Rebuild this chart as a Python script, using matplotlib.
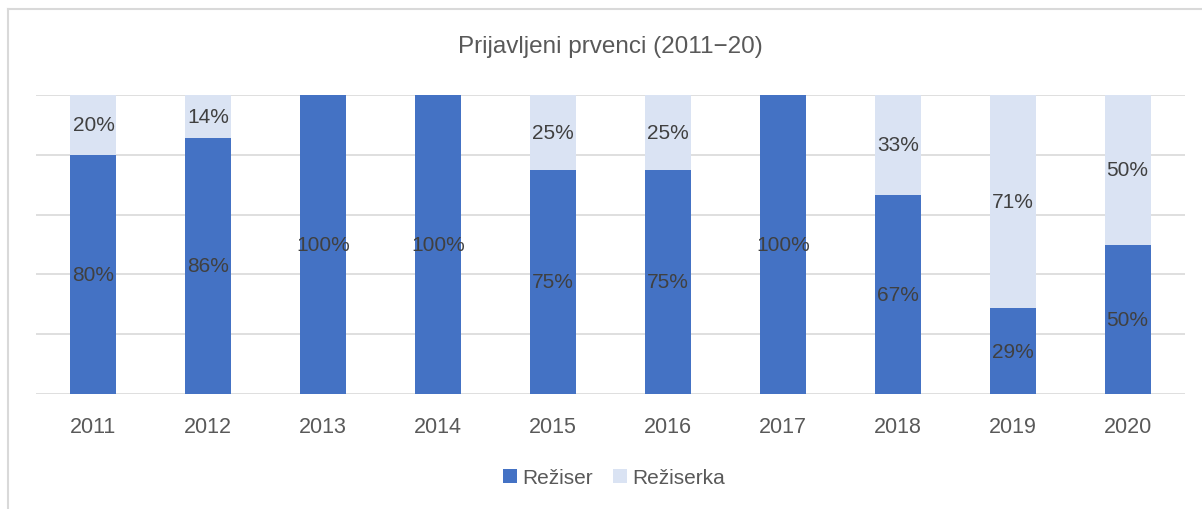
import matplotlib
matplotlib.use("Agg")
import matplotlib.pyplot as plt
from matplotlib.lines import Line2D
from matplotlib.patches import Patch

years = ["2011", "2012", "2013", "2014", "2015", "2016", "2017", "2018", "2019", "2020"]
reziser = [80.0, 85.7, 100.0, 100.0, 75.0, 75.0, 100.0, 66.7, 28.6, 50.0]
reziserka = [20.0, 14.3, 0.0, 0.0, 25.0, 25.0, 0.0, 33.3, 71.4, 50.0]
series_names = ["Režiser", "Režiserka"]
title = "Prijavljeni prvenci (2011\u221220)"

c_blue = "#4472C4"
c_light = "#DAE3F3"
c_text = "#595959"
c_label = "#404040"
c_grid = "#D9D9D9"

plt.rcParams['font.family'] = ['Liberation Sans', 'DejaVu Sans']

W, H = 1202, 510
fig = plt.figure(figsize=(W / 100, H / 100), dpi=100)
ax = fig.add_axes([36 / W, 1 - 395 / H, (1185 - 36) / W, (395 - 96) / H])

x = list(range(len(years)))
b1 = ax.bar(x, reziser, width=0.4, color=c_blue, zorder=3)
b2 = ax.bar(x, reziserka, width=0.4, bottom=reziser, color=c_light, zorder=3)

for i in x:
    if reziser[i] > 0:
        ax.text(i, reziser[i] / 2, f"{round(reziser[i])}%", ha="center", va="center",
                fontsize=15, color=c_label, zorder=4)
    if reziserka[i] > 0:
        ax.text(i, reziser[i] + reziserka[i] / 2, f"{round(reziserka[i])}%", ha="center",
                va="center", fontsize=15, color=c_label, zorder=4)

ax.set_xlim(-0.5, len(years) - 0.5)
ax.set_ylim(0, 100)
ax.set_yticks([0, 20, 40, 60, 80, 100])
ax.yaxis.grid(True, color=c_grid, linewidth=1.2, zorder=0)
ax.tick_params(axis="y", left=False, labelleft=False)
ax.tick_params(axis="x", bottom=False, labelsize=15.5, labelcolor=c_text, pad=12)
ax.set_xticks(x)
ax.set_xticklabels(years)
for s in ax.spines.values():
    s.set_visible(False)

fig.text(610 / W, 1 - 47 / H, title, ha="center", va="center", fontsize=17.5, color=c_text)

handles = [Patch(facecolor=c_blue, edgecolor="none"), Patch(facecolor=c_light, edgecolor="none")]
fig.legend(handles, series_names, loc="center", bbox_to_anchor=(614 / W, 1 - 479 / H), ncol=2,
           frameon=False, fontsize=15, labelcolor=c_text, handlelength=0.65, handleheight=0.65,
           handletextpad=0.25, columnspacing=1.0)

# chart border (left and top visible)
fig.add_artist(Line2D([7.5 / W, 7.5 / W], [0, 1 - 9.5 / H], transform=fig.transFigure, color=c_grid, linewidth=1.5))
fig.add_artist(Line2D([7.5 / W, 1], [1 - 9.5 / H, 1 - 9.5 / H], transform=fig.transFigure, color=c_grid, linewidth=1.5))

fig.savefig("out.png", dpi=100, facecolor="white")
